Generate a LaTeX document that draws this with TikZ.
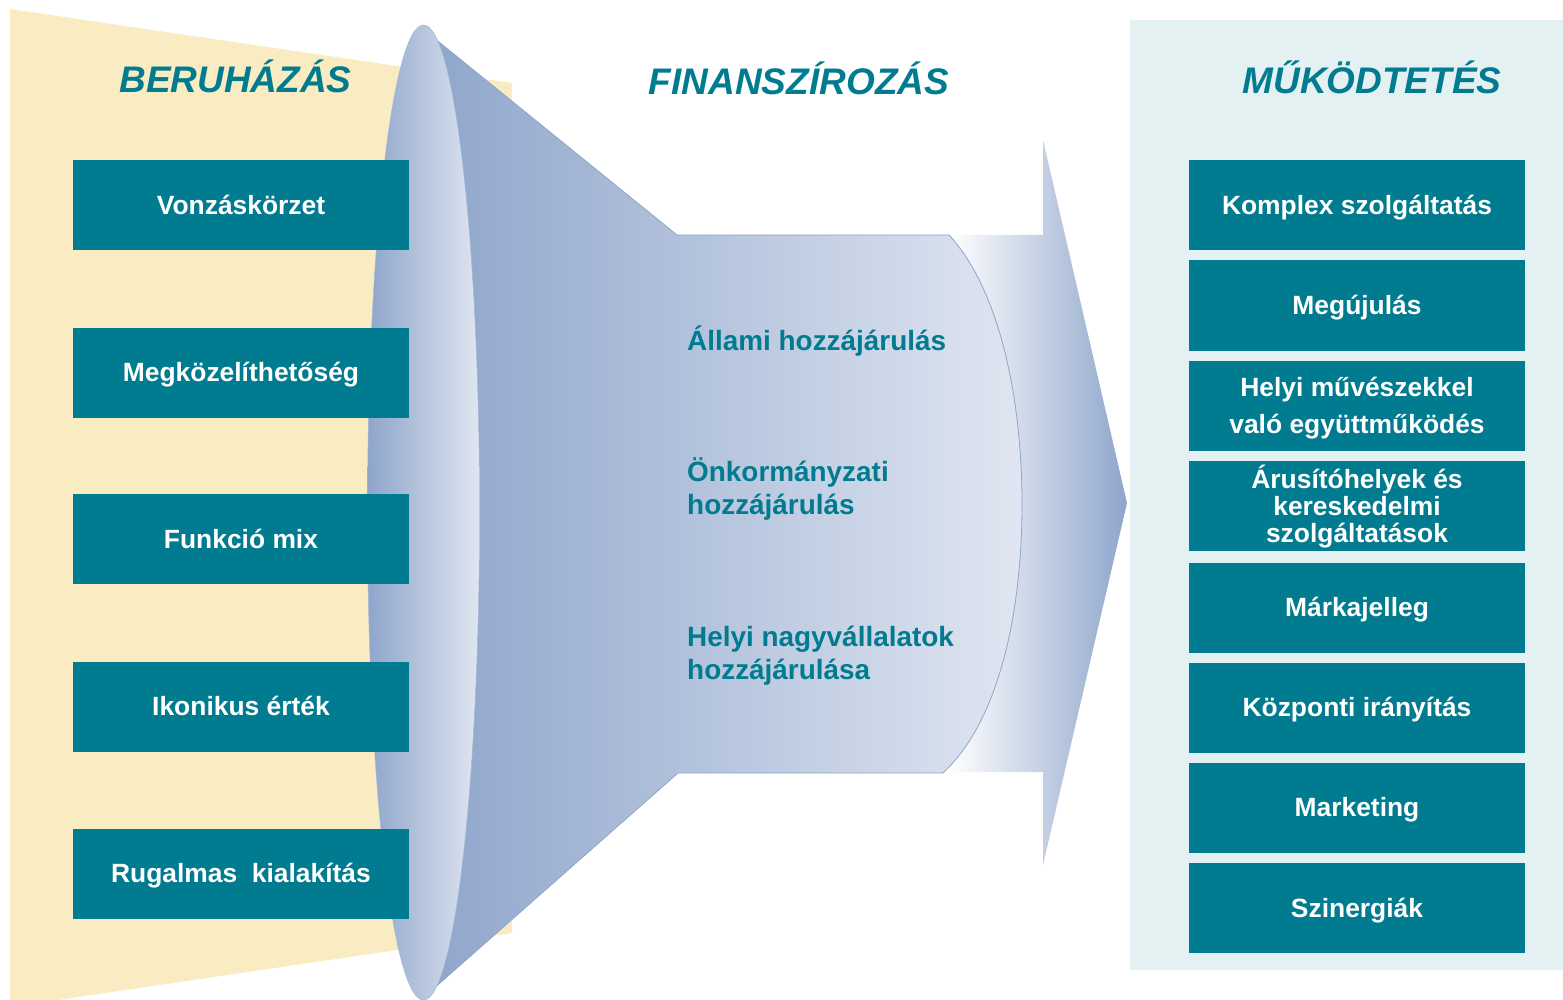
\documentclass[tikz,border=0pt]{standalone}
\usepackage{fontspec}
\setmainfont{Liberation Sans}
\definecolor{tealbox}{HTML}{007B8F}
\definecolor{funnel}{HTML}{8EA5CB}
\definecolor{funnellight}{HTML}{E0E6F1}
\definecolor{sand}{HTML}{F9ECC2}
\definecolor{panel}{HTML}{E3F1F3}
\newcommand\mytightlines{\lineskiplimit=-20pt\relax}
\begin{document}
\begin{tikzpicture}[x=1pt,y=-1pt,
  box/.style={fill=tealbox, text=white, minimum width=336pt, minimum height=90pt,
    inner sep=0pt, align=center, font=\fontsize{26.4}{30}\selectfont\bfseries,
    text height=18.9pt, text depth=0pt},
  title/.style={text=tealbox, font=\fontsize{37}{40}\selectfont\bfseries\itshape,
    anchor=base, inner sep=0pt},
  mid/.style={text=tealbox, font=\fontsize{27.9}{33}\selectfont\bfseries,
    anchor=base west, align=left, inner sep=0pt}]
\useasboundingbox (0,0) rectangle (1563,1000);
% backgrounds
\fill[sand] (10,9) -- (512,83) -- (512,933) -- (58,1000) -- (10,1000) -- cycle;
\fill[panel] (1130,20) rectangle (1563,970);
% arrow
\path[left color=white, right color=funnel]
  (948,235) -- (1043,235) -- (1043,140) -- (1127,503) -- (1043,865) -- (1043,772) -- (948,772) -- cycle;
% cone
\path[draw=funnel, line width=0.8pt, left color=funnel, right color=funnellight]
  (423,29) -- (677,235) -- (949,235)
  .. controls (1000,290) and (1022,400) .. (1022,504)
  .. controls (1022,610) and (1000,720) .. (943,773)
  -- (678,773) -- (423,998) -- cycle;
% funnel mouth
\path[draw=funnel!80, line width=0.5pt, left color=funnel, right color=funnellight]
  (423.5,512.5) ellipse [x radius=56pt, y radius=487.5pt];
% titles
\node[title] (t1) at (235.5,93) {BERUHÁZÁS};
\node[title] (t2) at (799,95) {FINANSZÍROZÁS};
\node[title] (t3) at (1372,94) {MŰKÖDTETÉS};
% left boxes
\node[box] (b1) at (241,205.5) {Vonzáskörzet};
\node[box] (b2) at (241,372.5) {Megközelíthetőség};
\node[box] (b3) at (241,539) {Funkció mix};
\node[box] (b4) at (241,706.5) {Ikonikus érték};
\node[box] (b5) at (241,873.5) {Rugalmas\ \ kialakítás};
% middle texts (base = last line)
\node[mid] (m1) at (687,350) {Állami hozzájárulás};
\node[mid] (m2) at (687,514) {Önkormányzati\\hozzájárulás};
\node[mid] (m3) at (687,679) {Helyi nagyvállalatok\\hozzájárulása};
% right boxes
\node[box] (r1) at (1357,205.5) {Komplex szolgáltatás};
\node[box] (r2) at (1357,305.5) {Megújulás};
\node[box, font=\fontsize{26.4}{37}\selectfont\bfseries, text height=55.9pt] (r3) at (1357,405.5)
  {Helyi művészekkel\\való együttműködés};
\node[box, font=\fontsize{26.4}{27}\selectfont\bfseries\mytightlines, text height=72.9pt] (r4) at (1357,506)
  {Árusítóhelyek és\\kereskedelmi\\szolgáltatások};
\node[box] (r5) at (1357,607.5) {Márkajelleg};
\node[box] (r6) at (1357,707.5) {Központi irányítás};
\node[box] (r7) at (1357,807.5) {Marketing};
\node[box] (r8) at (1357,908) {Szinergiák};
\end{tikzpicture}
\end{document}
